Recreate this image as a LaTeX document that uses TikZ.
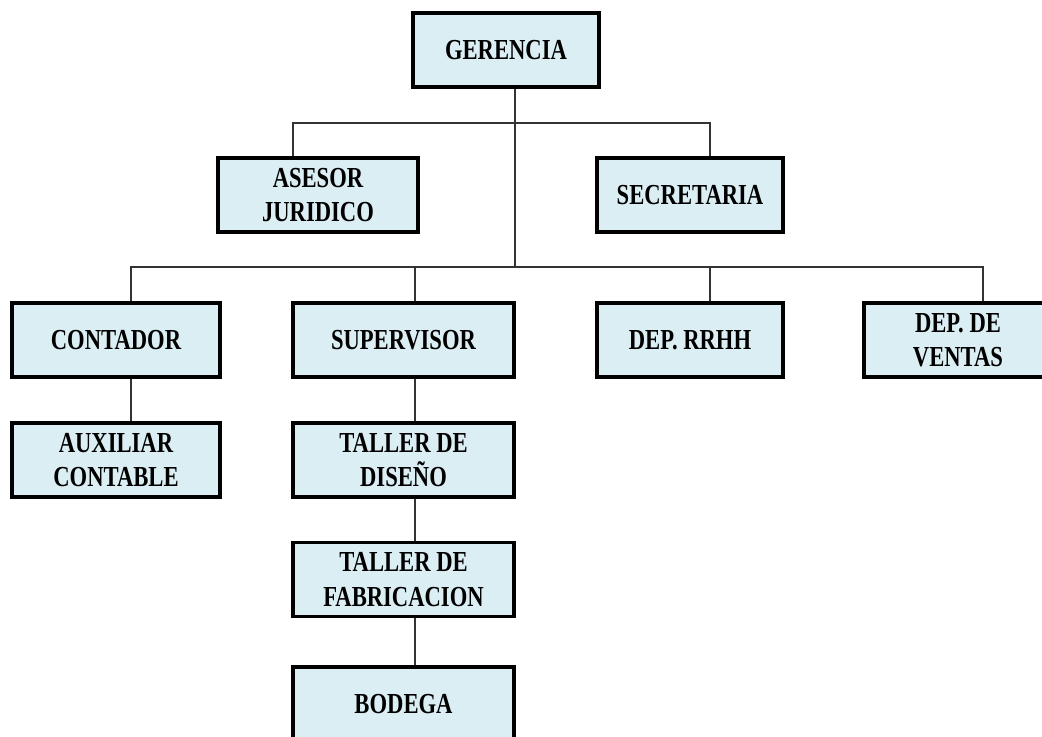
\documentclass[tikz,border=0pt]{standalone}
\usepackage{fontspec}
\setmainfont{Liberation Serif}[FakeStretch=0.78]
\usepackage{xcolor}
\usepackage{tikz}
\definecolor{boxfill}{HTML}{DBEEF4}

\begin{document}
\begin{tikzpicture}[
  font=\bfseries\fontsize{16.5}{19.5}\selectfont,
  unit/.style={draw, line width=1.8pt, fill=boxfill, inner sep=0pt,
    minimum width=3.72cm, minimum height=1.48cm, align=center},
  link/.style={line width=0.7pt, draw=black!80}
]
\useasboundingbox (0,0) rectangle (20.84,-14.72);

\node[unit] (ger) at (10.12,-1.00) {GERENCIA};
\node[unit, minimum width=4.0cm] (ase) at (6.36,-3.90) {ASESOR\\JURIDICO};
\node[unit] (sec) at (13.80,-3.90) {SECRETARIA};
\node[unit, minimum width=4.16cm] (con) at (2.32,-6.80) {CONTADOR};
\node[unit, minimum width=4.42cm] (sup) at (8.07,-6.80) {SUPERVISOR};
\node[unit] (rrhh) at (13.80,-6.80) {DEP. RRHH};
\node[unit, minimum width=3.76cm] (ven) at (19.16,-6.80) {DEP. DE\\VENTAS};
\node[unit, minimum width=4.16cm] (aux) at (2.32,-9.20) {AUXILIAR\\CONTABLE};
\node[unit, minimum width=4.42cm] (dis) at (8.07,-9.20) {TALLER DE\\DISEÑO};
\node[unit, minimum width=4.42cm] (fab) at (8.07,-11.59) {TALLER DE\\FABRICACION};
\node[unit, minimum width=4.42cm] (bod) at (8.07,-14.08) {BODEGA};

\coordinate (t1) at (10.30,-2.46);
\coordinate (t2) at (10.30,-5.34);

\draw[link] (ger.south -| t1) -- (t2);
\draw[link] ([xshift=-5mm]ase.north) |- (t1) -| ([xshift=4mm]sec.north);
\draw[link] ([xshift=3mm]con.north) |- (t2) -| ([xshift=5mm]ven.north);
\draw[link] ([xshift=2.3mm]sup.north) |- (t2);
\draw[link] ([xshift=4mm]rrhh.north) |- (t2);
\draw[link] ([xshift=3mm]con.south) -- ([xshift=3mm]aux.north);
\draw[link] ([xshift=2.3mm]sup.south) -- ([xshift=2.3mm]dis.north);
\draw[link] ([xshift=2.3mm]dis.south) -- ([xshift=2.3mm]fab.north);
\draw[link] ([xshift=2.3mm]fab.south) -- ([xshift=2.3mm]bod.north);

\end{tikzpicture}
\end{document}
